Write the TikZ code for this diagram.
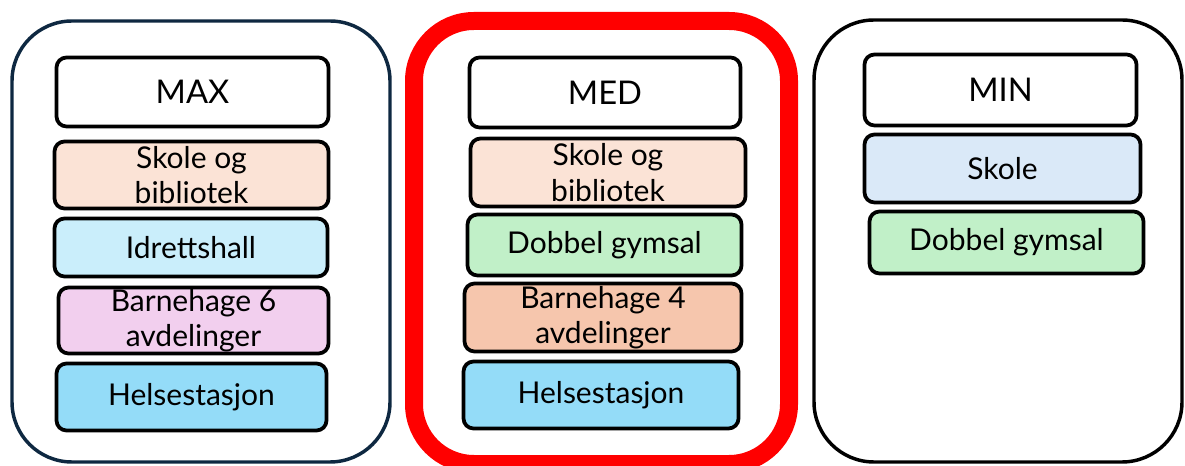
\documentclass[tikz,border=0pt]{standalone}
\usepackage{fontspec}
\setmainfont{Lato}

\definecolor{maxramme}{HTML}{0E2841}
\definecolor{medramme}{HTML}{FF0000}
\definecolor{skolebib}{HTML}{FBE3D6}
\definecolor{hall}{HTML}{CAEEFB}
\definecolor{bhgseks}{HTML}{F2CFEE}
\definecolor{bhgfire}{HTML}{F6C6AD}
\definecolor{helse}{HTML}{94DCF8}
\definecolor{gymsal}{HTML}{C1F0C8}
\definecolor{skole}{HTML}{DAE9F8}

\newcommand{\px}{0.75pt}

\tikzset{
    panel/.style={draw, line width=2.6pt, rounded corners=45pt},
    blokk/.style={draw, line width=2.8pt, rounded corners=7.5pt, align=center,
        inner sep=0pt, text=black, font=\fontsize{22.5}{26.5}\selectfont},
    tittel/.style={blokk, fill=white, font=\fontsize{24.5}{28}\selectfont},
}

\begin{document}
\begin{tikzpicture}[x=\px, y=-\px]
    \useasboundingbox (0,0) rectangle (1185,466);

    % rammene
    \node[panel, draw=maxramme, minimum width=378*\px, minimum height=441*\px] (maxpanel) at (201,241.5) {};
    \node[panel, draw=medramme, line width=13.5pt, minimum width=375*\px, minimum height=443*\px] (medpanel) at (601.5,242.5) {};
    \node[panel, minimum width=368*\px, minimum height=442*\px] (minpanel) at (998,241) {};

    % MAX
    \node[tittel, minimum width=272*\px, minimum height=69*\px] (maxtittel) at (192.5,92) {MAX};
    \node[blokk, fill=skolebib, minimum width=274*\px, minimum height=67*\px] (maxskole) at (191.5,175) {Skole og\\bibliotek};
    \node[blokk, fill=hall, minimum width=273*\px, minimum height=58*\px] (maxhall) at (191,247.5) {Idrettshall};
    \node[blokk, fill=bhgseks, minimum width=270*\px, minimum height=66*\px] (maxbhg) at (193.5,320.5) {Barnehage 6\\avdelinger};
    \node[blokk, fill=helse, minimum width=270*\px, minimum height=67*\px] (maxhelse) at (191.5,397) {Helsestasjon};

    % MED
    \node[tittel, minimum width=271*\px, minimum height=70*\px] (medtittel) at (605,92.5) {MED};
    \node[blokk, fill=skolebib, minimum width=275*\px, minimum height=68*\px] (medskole) at (608,172.5) {Skole og\\bibliotek};
    \node[blokk, fill=gymsal, minimum width=274*\px, minimum height=61*\px] (medgym) at (604.5,245) {Dobbel gymsal};
    \node[blokk, fill=bhgfire, minimum width=277*\px, minimum height=68*\px] (medbhg) at (603,317.5) {Barnehage 4\\avdelinger};
    \node[blokk, fill=helse, minimum width=275*\px, minimum height=67*\px] (medhelse) at (601,395) {Helsestasjon};

    % MIN
    \node[tittel, minimum width=272*\px, minimum height=71*\px] (mintittel) at (1000.5,90) {MIN};
    \node[blokk, fill=skole, minimum width=276*\px, minimum height=68*\px] (minskole) at (1002.5,168.5) {Skole};
    \node[blokk, fill=gymsal, minimum width=274*\px, minimum height=62*\px] (mingym) at (1006.5,242.5) {Dobbel gymsal};

\end{tikzpicture}
\end{document}
